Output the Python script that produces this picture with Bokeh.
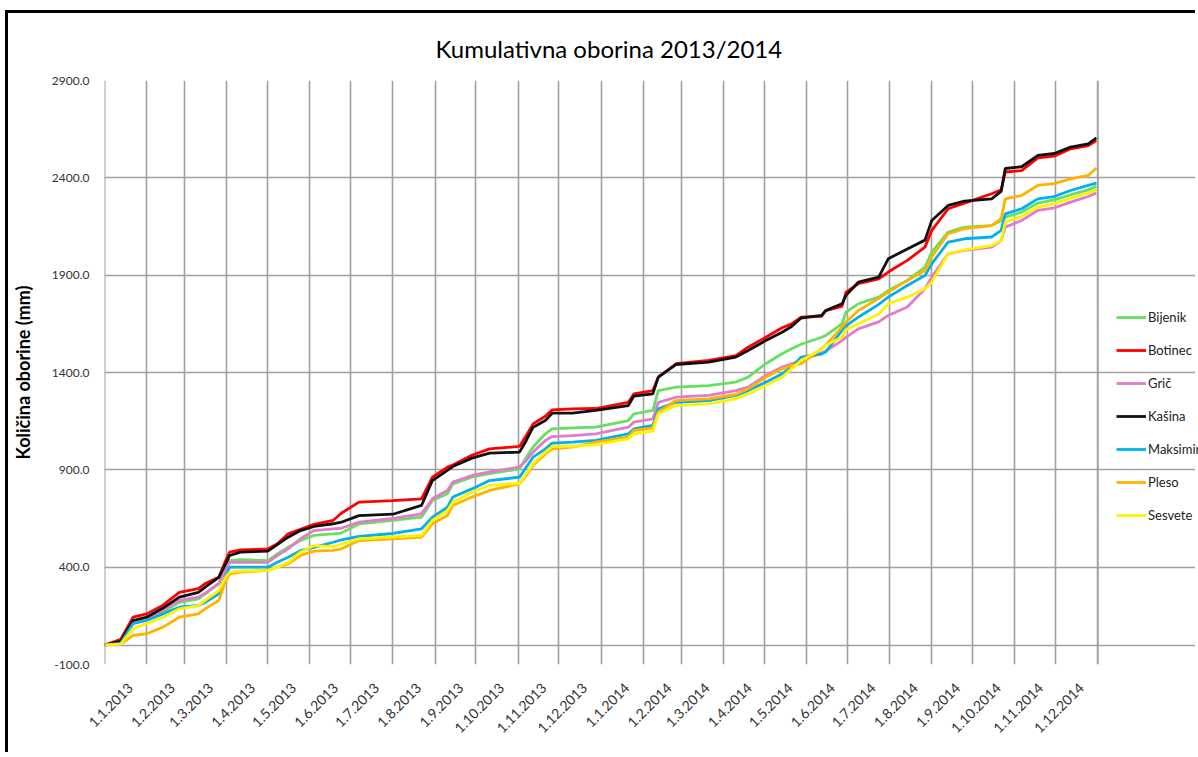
import datetime as dt
from bokeh.plotting import figure
from bokeh.models import (FixedTicker, Legend, LegendItem, Span, PrintfTickFormatter,
                          LinearAxis, Range1d)
from bokeh.embed import file_html
from bokeh.resources import INLINE

# ---------------- data ----------------
stations = ["Bijenik", "Botinec", "Grič", "Kašina", "Maksimir", "Pleso", "Sesvete"]
colors = ["#66E060", "#FF0000", "#E47ACB", "#111111", "#00B0F0", "#FFB300", "#FFF200"]

# day index from 1.1.2013
days = [0, 12, 21, 31, 43, 55, 69, 74, 84, 89, 92, 100, 120, 127, 135, 144, 154, 168, 174,
        187, 212, 233, 241, 252, 256, 270, 283, 305, 310, 315, 324, 329, 344, 361, 385,
        389, 403, 407, 420, 444, 464, 473, 486, 498, 505, 512, 527, 530, 542, 545, 554,
        569, 576, 590, 603, 608, 620, 632, 652, 659, 662, 674, 686, 698, 710, 723, 729]

bijenik = [0, 15, 118, 130, 169, 219, 237, 263, 314, 391, 434, 438, 434, 468, 502, 537, 563, 571, 575,
           622, 640, 657, 742, 777, 828, 862, 880, 905, 965, 1017, 1085, 1110, 1116, 1119, 1153,
           1188, 1205, 1307, 1325, 1333, 1351, 1376, 1445, 1496, 1522, 1545, 1581, 1590, 1650, 1710, 1753,
           1787, 1821, 1873, 1941, 2018, 2121, 2147, 2155, 2181, 2198, 2224, 2270, 2287, 2313, 2338, 2356]

botinec = [0, 30, 143, 160, 205, 271, 290, 316, 348, 434, 477, 489, 494, 520, 571, 595, 620, 640, 677,
           734, 742, 751, 862, 914, 925, 975, 1008, 1020, 1076, 1136, 1175, 1208, 1213, 1215, 1247,
           1290, 1307, 1376, 1445, 1462, 1487, 1530, 1581, 1630, 1650, 1684, 1688, 1718, 1740, 1813, 1856,
           1881, 1916, 1976, 2044, 2130, 2241, 2270, 2318, 2338, 2430, 2437, 2502, 2511, 2549, 2566, 2592]

gric = [0, 15, 118, 135, 180, 229, 246, 266, 317, 391, 425, 425, 425, 460, 494, 546, 588, 597, 600,
        631, 650, 674, 751, 794, 837, 871, 890, 914, 948, 991, 1051, 1071, 1076, 1085, 1119,
        1145, 1162, 1247, 1273, 1282, 1307, 1325, 1385, 1428, 1445, 1462, 1500, 1510, 1564, 1580, 1624,
        1660, 1693, 1736, 1830, 1890, 2010, 2027, 2044, 2078, 2147, 2181, 2233, 2246, 2275, 2304, 2322]

kasina = [0, 20, 126, 143, 190, 246, 271, 297, 348, 417, 460, 477, 482, 516, 554, 588, 609, 623, 631,
          665, 672, 717, 845, 897, 917, 960, 986, 991, 1051, 1119, 1153, 1191, 1191, 1205, 1230,
          1279, 1290, 1376, 1441, 1453, 1479, 1513, 1564, 1607, 1636, 1680, 1693, 1718, 1753, 1796, 1864,
          1890, 1984, 2035, 2080, 2181, 2258, 2280, 2292, 2330, 2448, 2457, 2515, 2525, 2558, 2575, 2605]

maksimir = [0, 10, 110, 126, 160, 194, 203, 219, 263, 357, 400, 400, 400, 425, 451, 485, 502, 528, 540,
            558, 573, 597, 657, 708, 760, 802, 845, 862, 914, 965, 1008, 1037, 1042, 1051, 1085,
            1110, 1128, 1213, 1247, 1256, 1282, 1307, 1350, 1393, 1430, 1479, 1495, 1505, 1616, 1640, 1684,
            1750, 1787, 1847, 1898, 1958, 2070, 2087, 2096, 2130, 2215, 2241, 2292, 2304, 2335, 2361, 2373]

pleso = [0, 5, 50, 58, 92, 143, 160, 186, 229, 331, 365, 375, 383, 400, 417, 460, 482, 486, 494,
         537, 545, 554, 623, 665, 717, 760, 794, 828, 871, 922, 982, 1008, 1017, 1042, 1068,
         1102, 1116, 1196, 1256, 1265, 1287, 1316, 1376, 1419, 1435, 1445, 1522, 1540, 1633, 1660, 1718,
         1780, 1813, 1873, 1924, 1993, 2113, 2139, 2155, 2190, 2292, 2309, 2361, 2370, 2395, 2412, 2451]

sesvete = [0, 5, 85, 110, 143, 186, 203, 229, 280, 348, 374, 380, 383, 400, 425, 477, 511, 505, 519,
           545, 555, 563, 640, 690, 734, 785, 820, 831, 880, 931, 991, 1020, 1020, 1030, 1059,
           1085, 1099, 1188, 1230, 1239, 1265, 1290, 1333, 1376, 1420, 1462, 1520, 1540, 1581, 1620, 1650,
           1700, 1753, 1787, 1830, 1864, 2010, 2030, 2052, 2078, 2173, 2202, 2250, 2267, 2296, 2322, 2339]

month_labels = ["1.1.2013", "1.2.2013", "1.3.2013", "1.4.2013", "1.5.2013", "1.6.2013",
                "1.7.2013", "1.8.2013", "1.9.2013", "1.10.2013", "1.11.2013", "1.12.2013",
                "1.1.2014", "1.2.2014", "1.3.2014", "1.4.2014", "1.5.2014", "1.6.2014",
                "1.7.2014", "1.8.2014", "1.9.2014", "1.10.2014", "1.11.2014", "1.12.2014"]

y_ticks = [-100, 400, 900, 1400, 1900, 2400, 2900]

series = [bijenik, botinec, gric, kasina, maksimir, pleso, sesvete]

# ---------------- layout constants ----------------
origin = dt.date(2013, 1, 1)
def to_day(lbl):
    d, m, y = (int(t) for t in lbl.split("."))
    return float((dt.date(y, m, d) - origin).days)

month_days = [to_day(l) for l in month_labels]
X_END = 730.0                 # 31.12.2014 end

FIG_W, FIG_H = 1190, 742
LEFT, TOP, BOTTOM = 93, 67, 91
PLOT_PX = 996                 # pixel width of the real plot box
frame_w = FIG_W - LEFT
x_view_end = X_END * frame_w / PLOT_PX   # frame extends to the right for the legend

FONT = "Lato"
GRID = "#A0A0A0"

p = figure(width=FIG_W, height=FIG_H, output_backend="svg", toolbar_location=None,
           x_range=Range1d(0, x_view_end), y_range=Range1d(-100, 2900),
           min_border_left=LEFT, min_border_right=0, min_border_top=TOP, min_border_bottom=BOTTOM,
           x_axis_location=None)

p.title.text = "Kumulativna oborina 2013/2014"
p.title.align = "left"
p.title.offset = 331
p.title.text_font = FONT
p.title.text_font_size = "24px"
p.title.text_font_style = "normal"
p.title.text_color = "#000000"
p.title.standoff = 36

p.outline_line_color = None

# grids (bounded to the plot box)
p.xgrid.ticker = FixedTicker(ticks=month_days)
p.ygrid.ticker = FixedTicker(ticks=y_ticks + [0])
p.ygrid.bounds = (0, X_END)
for g in (p.xgrid, p.ygrid):
    g.grid_line_color = GRID
    g.grid_line_width = 1.6

# left/right borders of the plot box
p.add_layout(Span(location=0, dimension="height", line_color=GRID, line_width=2))
p.add_layout(Span(location=X_END, dimension="height", line_color=GRID, line_width=2))

# y axis
ya = p.yaxis[0]
ya.ticker = FixedTicker(ticks=y_ticks)
ya.formatter = PrintfTickFormatter(format="%.1f")
ya.axis_line_color = None
ya.major_tick_line_color = None
ya.minor_tick_line_color = None
ya.major_label_text_font = FONT
ya.major_label_text_font_size = "12px"
ya.major_label_text_color = "#333333"
ya.major_label_standoff = 9
ya.axis_label = "Količina oborine (mm)"
ya.axis_label_text_font = FONT
ya.axis_label_text_font_size = "18px"
ya.axis_label_text_font_style = "bold"
ya.axis_label_text_color = "#000000"
ya.axis_label_standoff = 15

# x axis: labels only, shifted to sit like Excel's rotated labels
LABEL_SHIFT = 19.0
label_ticks = [d + LABEL_SHIFT for d in month_days]
xa = LinearAxis(ticker=FixedTicker(ticks=label_ticks),
                major_label_overrides={t: l for t, l in zip(label_ticks, month_labels)})
xa.axis_line_color = None
xa.major_tick_line_color = None
xa.minor_tick_line_color = None
xa.major_label_orientation = 0.7854
xa.major_label_text_font = FONT
xa.major_label_text_font_size = "14px"
xa.major_label_text_color = "#333333"
xa.major_label_standoff = 15
p.add_layout(xa, "below")

renderers = []
for name, col, vals in zip(stations, colors, series):
    r = p.line(days, vals, line_color=col, line_width=2.8)
    renderers.append(r)

legend = Legend(items=[LegendItem(label=n, renderers=[r]) for n, r in zip(stations, renderers)],
                location=(1012, 139), orientation="vertical",
                border_line_alpha=0, background_fill_alpha=0,
                label_text_font=FONT, label_text_font_size="13px", label_text_color="#222222",
                glyph_width=30, glyph_height=20, label_height=20, spacing=13,
                label_standoff=2, padding=0, margin=0)
p.add_layout(legend, "center")

p.styles = {"margin-top": "10px", "margin-left": "5px",
            "border-top": "3px solid black", "border-left": "3px solid black",
            "border-right": "none", "border-bottom": "none"}

open("out.html", "w").write(file_html(p, INLINE))
